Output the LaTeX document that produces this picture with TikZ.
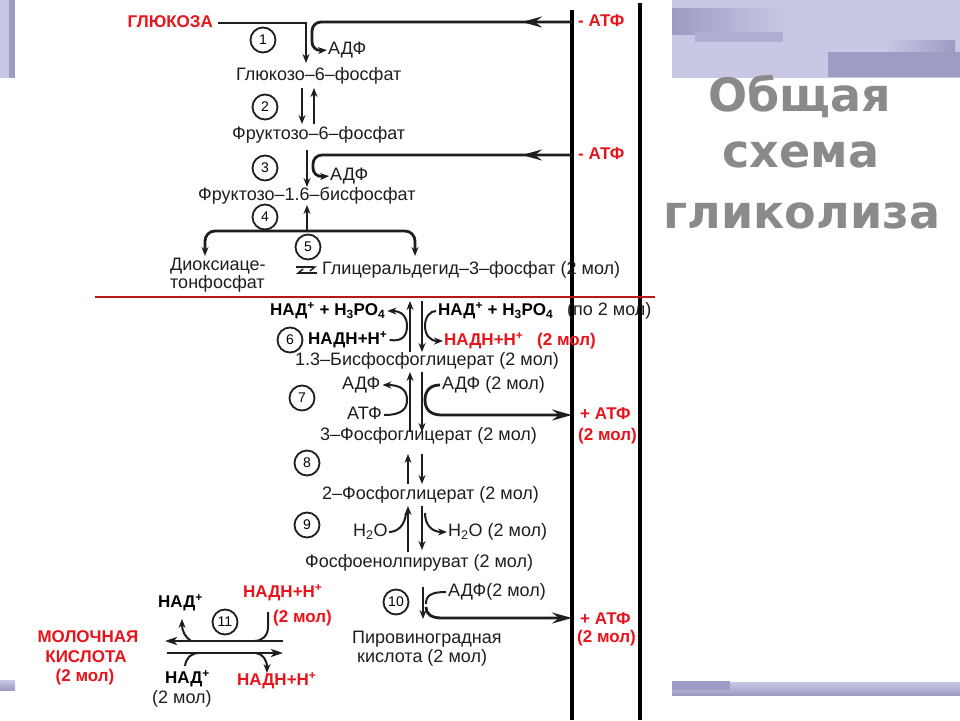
\documentclass[tikz,border=0pt]{standalone}
\usepackage{fontspec}
\setmainfont{Liberation Sans}
\newfontfamily\titlefont{DejaVu Sans}
\usetikzlibrary{arrows.meta,decorations.markings}
\definecolor{myred}{HTML}{E8141C}
\definecolor{linered}{HTML}{B81818}
\definecolor{lav}{HTML}{C8C8E4}
\definecolor{lavd}{HTML}{9C9CC4}
\definecolor{lavm}{HTML}{AEAED2}
\definecolor{ttl}{HTML}{8A8A8A}
\definecolor{ink}{HTML}{1E1E1E}
\begin{document}
\begin{tikzpicture}[x=1pt,y=-1pt,
  txt/.style={font=\fontsize{18}{20}\selectfont, text=ink, inner sep=0pt, text height=13pt, text depth=4pt},
  btxt/.style={font=\fontsize{17}{20}\selectfont\bfseries, text=black, inner sep=0pt, text height=12.5pt, text depth=3.5pt},
  rtxt/.style={btxt, text=myred},
  circnum/.style={circle, draw=ink, line width=1.8pt, minimum size=25pt, inner sep=0pt, font=\fontsize{14}{14}\selectfont},
  ln/.style={line width=2.8pt, draw=ink},
  thinln/.style={line width=2pt, draw=ink},
  arrS/.style={-{Stealth[length=9pt,width=7pt]}},
  arrB/.style={-{Stealth[length=20pt,width=11pt,inset=7pt]}},
  midarr/.style={postaction={decorate}, decoration={markings, mark=at position #1 with {\arrow{Stealth[length=20pt,width=11pt,inset=7pt]}}}},
  bar/.style={line width=3.5pt, draw=black},
  ttlfont/.style={font=\titlefont\fontsize{46}{50}\selectfont\bfseries, text=ttl, inner sep=0pt}
]
\useasboundingbox (0,0) rectangle (960,720);
\fill[white] (0,0) rectangle (960,720);

% ---- slide decorations ----
\fill[lav] (672,0) rectangle (960,78);
\shade[left color=lavd, right color=lav] (672,8) rectangle (785,34);
\fill[lavm] (695,32) rectangle (783,42);
\shade[left color=lav, right color=lavd] (885,40) rectangle (955,58);
\fill[lavd] (828,52) rectangle (960,77);
\fill[lav] (0,0) rectangle (9,78);
\fill[lavd] (9,0) rectangle (15,78);
\shade[top color=lav, bottom color=lavd] (672,682) rectangle (960,695);
\fill[lavd] (672,681) rectangle (730,690);
\shade[top color=lav, bottom color=lavd] (0,680) rectangle (15,690);

% ---- title ----
\node[ttlfont] (t1) at (800,96) {Общая};
\node[ttlfont] (t2) at (801,155) {схема};
\node[ttlfont] (t3) at (802,216) {гликолиза};

% ---- vertical bars ----
\coordinate (Ltop) at (572,10); \coordinate (Lbot) at (572,720);
\coordinate (Rtop) at (640,3);  \coordinate (Rbot) at (640,720);
\draw[bar] (Ltop) -- (Lbot);
\draw[bar] (Rtop) -- (Rbot);

% ---- red separator ----
\coordinate (sepA) at (95,297); \coordinate (sepB) at (655,297);
\draw[line width=2pt, linered] (sepA) -- (sepB);

% ---- step 1 ----
\node[rtxt, anchor=east] (glu) at (213,23) {ГЛЮКОЗА};
\node[rtxt, anchor=west] (atp1) at (578,22) {- АТФ};
\node[circnum] (n1) at (263,40) {1};
\node[txt, anchor=west] (adp1) at (328,50) {АДФ};
\node[txt, anchor=west] (g6p) at (236,76) {Глюкозо–6–фосфат};
\coordinate (g6pin) at (306,63);
\draw[ln, arrS] ([xshift=5pt]glu.east) -| (g6pin);
\coordinate (L1) at (572,22);
\coordinate (c1a) at (312,22); \coordinate (c1b) at (312,51);
\draw[ln, arrS, rounded corners=9pt, midarr=50pt, shorten >=1pt] (L1) -- (c1a) -- (c1b) -- (adp1.west);

% ---- step 2 ----
\node[circnum] (n2) at (265,107) {2};
\node[txt, anchor=west] (f6p) at (232,135) {Фруктозо–6–фосфат};
\coordinate (s2a) at (302,88); \coordinate (s2b) at (302,124);
\coordinate (s2c) at (314,124); \coordinate (s2d) at (314,88);
\draw[ln, arrS] (s2a) -- (s2b);
\draw[ln, arrS] (s2c) -- (s2d);

% ---- step 3 ----
\node[circnum] (n3) at (265,168) {3};
\node[rtxt, anchor=west] (atp2) at (578,155) {- АТФ};
\node[txt, anchor=west] (adp3) at (330,176) {АДФ};
\node[txt, anchor=west] (f16) at (198,196) {Фруктозо–1.6–бисфосфат};
\coordinate (s3a) at (307,150); \coordinate (s3b) at (307,187);
\draw[ln, arrS] (s3a) -- (s3b);
\coordinate (L2) at (572,155);
\coordinate (c3a) at (313,155); \coordinate (c3b) at (313,177);
\draw[ln, arrS, rounded corners=9pt, midarr=50pt, shorten >=1pt] (L2) -- (c3a) -- (c3b) -- (adp3.west);

% ---- step 4 / 5 ----
\node[circnum] (n4) at (265,217) {4};
\node[circnum] (n5) at (308,247) {5};
\coordinate (fork) at (307,231); \coordinate (s4top) at (307,205);
\draw[ln, arrS] (fork) -- (s4top);
\coordinate (fl) at (205,231); \coordinate (fld) at (205,256);
\coordinate (fr) at (415,231); \coordinate (frd) at (415,256);
\draw[ln, arrS, rounded corners=10pt] (fork) -- (fl) -- (fld);
\draw[ln, arrS, rounded corners=10pt] (fork) -- (fr) -- (frd);
\node[txt, anchor=west] (dhap1) at (170,266) {Диоксиаце-};
\node[txt, anchor=west] (dhap2) at (170,284) {тонфосфат};
\node[txt, anchor=west] (gap) at (322,270) {Глицеральдегид–3–фосфат (2 мол)};
\coordinate (h1a) at (296,267); \coordinate (h1b) at (317,267);
\coordinate (h2a) at (317,273); \coordinate (h2b) at (296,273);
\draw[line width=1.5pt, ink, -{Straight Barb[harpoon,swap,length=5pt,width=8pt]}] (h1a) -- (h1b);
\draw[line width=1.5pt, ink, -{Straight Barb[harpoon,swap,length=5pt,width=8pt]}] (h2a) -- (h2b);

% ---- step 6 ----
\node[btxt, anchor=west] (nad6l) at (270,311) {НАД\textsuperscript{+} + Н\textsubscript{3}РО\textsubscript{4}};
\node[btxt, anchor=west] (nad6r) at (438,311) {НАД\textsuperscript{+} + Н\textsubscript{3}РО\textsubscript{4}};
\node[txt, anchor=west] (po2) at (567,311) {(по 2 мол)};
\node[circnum] (n6) at (290,340) {6};
\node[btxt, anchor=west] (nadh6l) at (308,340) {НАДН+Н\textsuperscript{+}};
\node[rtxt, anchor=west] (nadh6r) at (444,341) {НАДН+Н\textsuperscript{+}};
\node[rtxt, anchor=west] (mol6r) at (537,341) {(2 мол)};
\node[txt, anchor=west] (bpg) at (295,361) {1.3–Бисфосфоглицерат (2 мол)};
\coordinate (u6a) at (410,352); \coordinate (u6b) at (410,301);
\coordinate (d6a) at (422,301); \coordinate (d6b) at (422,352);
\draw[ln, arrS] (u6a) -- (u6b);
\draw[ln, arrS] (d6a) -- (d6b);
\coordinate (j6l) at (407,326); \coordinate (j6r) at (425,326);
\draw[thinln, arrS, shorten >=1pt] ([xshift=2pt]nadh6l.east) .. controls (403,342) and (407,335) .. (j6l) .. controls (407,317) and (402,311) .. ([xshift=1pt]nad6l.east);
\draw[thinln, arrS, shorten >=1pt] ([xshift=-2pt]nad6r.west) .. controls (430,311) and (425,317) .. (j6r) .. controls (425,335) and (430,341) .. (nadh6r.west);

% ---- step 7 ----
\node[circnum] (n7) at (302,398) {7};
\node[txt, anchor=west] (adp7l) at (342,385) {АДФ};
\node[txt, anchor=west] (atp7l) at (347,415) {АТФ};
\node[txt, anchor=west] (adp7r) at (442,385) {АДФ (2 мол)};
\node[rtxt, anchor=west] (atp7) at (580,415) {+ АТФ};
\node[rtxt, anchor=west] (mol7) at (578,436) {(2 мол)};
\node[txt, anchor=west] (pg3) at (320,436) {3–Фосфоглицерат (2 мол)};
\coordinate (u7a) at (410,432); \coordinate (u7b) at (410,372);
\coordinate (d7a) at (422,372); \coordinate (d7b) at (422,432);
\draw[ln, arrS] (u7a) -- (u7b);
\draw[ln, arrS] (d7a) -- (d7b);
\coordinate (j7l) at (407,400); \coordinate (j7r) at (425,400);
\draw[thinln, arrS, shorten >=1pt] ([xshift=2pt]atp7l.east) .. controls (403,415) and (407,408) .. (j7l) .. controls (407,391) and (402,385) .. ([xshift=1pt]adp7l.east);
\coordinate (L7) at (572,415);
\draw[ln, arrB] ([xshift=-2pt]adp7r.west) .. controls (430,385) and (425,391) .. (j7r) .. controls (425,410) and (431,415) .. (442,415) -- (L7);

% ---- step 8 ----
\node[circnum] (n8) at (307,463) {8};
\node[txt, anchor=west] (pg2) at (322,495) {2–Фосфоглицерат (2 мол)};
\coordinate (u8a) at (408,484); \coordinate (u8b) at (408,454);
\coordinate (d8a) at (422,454); \coordinate (d8b) at (422,484);
\draw[ln, arrS] (u8a) -- (u8b);
\draw[ln, arrS] (d8a) -- (d8b);

% ---- step 9 ----
\node[circnum] (n9) at (307,525) {9};
\node[txt, anchor=west] (h2ol) at (353,532) {Н\textsubscript{2}О};
\node[txt, anchor=west] (h2or) at (448,532) {Н\textsubscript{2}О (2 мол)};
\node[txt, anchor=west] (pep) at (305,563) {Фосфоенолпируват (2 мол)};
\coordinate (u9a) at (408,552); \coordinate (u9b) at (408,506);
\coordinate (d9a) at (422,506); \coordinate (d9b) at (422,550);
\draw[ln, arrS] (u9a) -- (u9b);
\draw[ln, arrS] (d9a) -- (d9b);
\coordinate (j9l) at (406,513); \coordinate (j9r) at (425,513);
\draw[thinln] ([xshift=1pt]h2ol.east) .. controls (398,532) and (405,525) .. (j9l);
\draw[thinln, arrS, shorten >=1pt] (j9r) .. controls (425,525) and (432,532) .. (h2or.west);

% ---- step 10 ----
\node[circnum] (n10) at (396,602) {10};
\node[txt, anchor=west] (adp10) at (448,592) {АДФ(2 мол)};
\node[rtxt, anchor=west] (atp10) at (580,620) {+ АТФ};
\node[rtxt, anchor=west] (mol10) at (577,638) {(2 мол)};
\node[txt, anchor=west] (pyr1) at (352,639) {Пировиноградная};
\node[txt, anchor=west] (pyr2) at (357,658) {кислота (2 мол)};
\coordinate (d10a) at (423,587); \coordinate (d10b) at (423,619);
\draw[ln, arrS] (d10a) -- (d10b);
\coordinate (j10a) at (426,604); \coordinate (j10b) at (426,607);
\draw[thinln] ([xshift=-2pt]adp10.west) .. controls (430,592) and (426,596) .. (j10a);
\coordinate (L10) at (572,618);
\draw[ln, arrB] (j10b) .. controls (426,614) and (431,618) .. (442,618) -- (L10);

% ---- step 11 ----
\node[circnum] (n11) at (225,622) {11};
\node[btxt, anchor=west] (nad11u) at (158,603) {НАД\textsuperscript{+}};
\node[rtxt, anchor=west] (nadh11u) at (243,593) {НАДН+Н\textsuperscript{+}};
\node[rtxt, anchor=west] (mol11u) at (273,618) {(2 мол)};
\node[btxt, anchor=west] (nad11l) at (165,679) {НАД\textsuperscript{+}};
\node[txt, anchor=west] (mol11l) at (152,699) {(2 мол)};
\node[rtxt, anchor=west] (nadh11l) at (237,681) {НАДН+Н\textsuperscript{+}};
\node[rtxt] (lac1) at (88,638) {МОЛОЧНАЯ};
\node[rtxt] (lac2) at (86,658) {КИСЛОТА};
\node[rtxt] (lac3) at (85,677) {(2 мол)};
\coordinate (up11a) at (283,641); \coordinate (up11b) at (165,641);
\coordinate (lo11a) at (167,653); \coordinate (lo11b) at (283,653);
\draw[ln, -{Stealth[length=12pt,width=8pt,inset=3pt]}] (up11a) -- (up11b);
\draw[ln, -{Stealth[length=12pt,width=8pt,inset=3pt]}] (lo11a) -- (lo11b);
\coordinate (a11s) at (191,641); \coordinate (a11e) at (182,619);
\draw[thinln, arrS] (a11s) .. controls (185,637) and (182,631) .. (a11e);
\coordinate (b11s) at (268,612); \coordinate (b11m) at (268,627); \coordinate (b11e) at (254,641);
\draw[thinln] (b11s) -- (b11m) .. controls (268,636) and (262,641) .. (b11e);
\coordinate (c11s) at (185,666); \coordinate (c11e) at (199,653);
\draw[thinln] (c11s) .. controls (186,658) and (191,653) .. (c11e);
\coordinate (d11s) at (256,653); \coordinate (d11e) at (267,673);
\draw[thinln, arrS] (d11s) .. controls (263,654) and (267,660) .. (d11e);
\end{tikzpicture}
\end{document}
